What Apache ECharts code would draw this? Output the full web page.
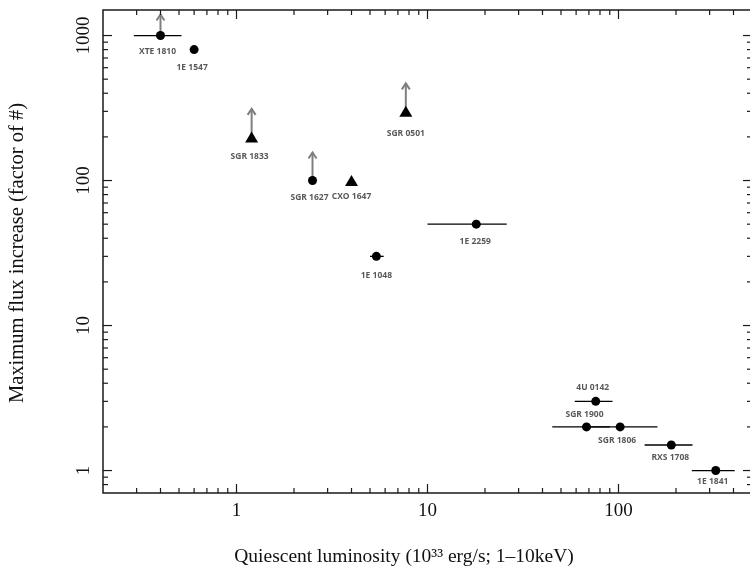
<!DOCTYPE html>
<html>
<head>
<meta charset="utf-8">
<script src="https://cdn.jsdelivr.net/npm/echarts@6/dist/echarts.min.js"></script>
<style>
  html, body { margin: 0; padding: 0; background: #fff; }
  #chart { width: 750px; height: 569px; }
</style>
</head>
<body>
<div id="chart"></div>
<script>
// magnetar outbursts: quiescent luminosity vs max flux increase
const names = ["XTE 1810", "1E 1547", "SGR 1833", "SGR 1627", "CXO 1647", "SGR 0501", "1E 1048",
  "1E 2259", "4U 0142", "SGR 1900", "SGR 1806", "RXS 1708", "1E 1841"];
const lum = [0.4, 0.6, 1.2, 2.5, 4.0, 7.7, 5.4, 18, 76, 68, 102, 189, 323];
const flux = [1000, 800, 200, 100, 100, 300, 30, 50, 3, 2, 2, 1.5, 1];
const lumLow = [0.29, null, null, null, null, null, 5.0, 10, 59, 45, 65, 137, 242];
const lumHigh = [0.515, null, null, null, null, null, 5.9, 26, 93, 90, 160, 244, 406];
const lowerLimit = [true, false, true, true, false, true, false, false, false, false, false, false, false];
const marker = ["circle", "circle", "triangle", "circle", "triangle", "triangle", "circle",
  "circle", "circle", "circle", "circle", "circle", "circle"];

const xMajorTicks = [1, 10, 100];
const xMinorTicks = [0.3, 0.4, 0.5, 0.6, 0.7, 0.8, 0.9, 2, 3, 4, 5, 6, 7, 8, 9,
  20, 30, 40, 50, 60, 70, 80, 90, 200, 300, 400];
const yMajorTicks = [1, 10, 100, 1000];
const yMinorTicks = [0.8, 0.9, 2, 3, 4, 5, 6, 7, 8, 9, 20, 30, 40, 50, 60, 70, 80, 90,
  200, 300, 400, 500, 600, 700, 800, 900];

const X_MIN = 0.2, X_MAX = 500, Y_MIN = 0.7, Y_MAX = 1500;

// label placement (px from point centre)
const labelOffset = {
  "XTE 1810": [-3, 16], "1E 1547": [-2, 18], "SGR 1833": [-2, 20], "SGR 1627": [-3, 17],
  "CXO 1647": [0, 16], "SGR 0501": [0, 22], "1E 1048": [0, 19], "1E 2259": [-1, 17],
  "4U 0142": [-3, -14], "SGR 1900": [-2, -12], "SGR 1806": [-3, 14], "RXS 1708": [-1, 13],
  "1E 1841": [-3, 11]
};
const arrowLen = { "XTE 1810": 21 };

const serif = "Liberation Serif";
const axisColor = "#1a1a1a";

const chart = echarts.init(document.getElementById("chart"));

const pointData = names.map((n, i) => ({
  name: n,
  value: [lum[i], flux[i]],
  symbol: marker[i],
  symbolSize: marker[i] === "triangle" ? [13, 11] : 9,
  label: { offset: labelOffset[n] }
}));

const barData = [];
names.forEach((n, i) => {
  if (lumLow[i] != null) barData.push([lumLow[i], lumHigh[i], flux[i]]);
});

const arrowData = [];
names.forEach((n, i) => {
  if (lowerLimit[i]) arrowData.push({ name: n, value: [lum[i], flux[i]] });
});

function isPow10(v) {
  const l = Math.log10(v);
  return Math.abs(l - Math.round(l)) < 1e-6;
}

chart.setOption({
  animation: false,
  backgroundColor: "#fff",
  grid: {
    left: 103, top: 10, width: 649, bottom: 76,
    outerBoundsMode: "none",
    show: true, borderColor: axisColor, borderWidth: 1.5, backgroundColor: "transparent"
  },
  xAxis: {
    type: "log", logBase: 10, min: X_MIN, max: X_MAX,
    axisLine: { show: false }, axisTick: { show: false }, splitLine: { show: false },
    axisLabel: {
      margin: 9, fontFamily: serif, fontSize: 19, color: "#111",
      formatter: v => isPow10(v) ? String(Math.round(v)) : ""
    }
  },
  yAxis: {
    type: "log", logBase: 10, min: Y_MIN, max: Y_MAX,
    axisLine: { show: false }, axisTick: { show: false }, splitLine: { show: false },
    axisLabel: {
      margin: 9, rotate: 90, fontFamily: serif, fontSize: 19, color: "#111",
      formatter: v => isPow10(v) ? String(Math.round(v)) : ""
    }
  },
  graphic: [
    {
      type: "text", x: 404, y: 557,
      style: {
        text: "Quiescent luminosity (10³³ erg/s; 1–10keV)",
        fontFamily: serif, fontSize: 19.5, fill: "#111", align: "center", verticalAlign: "middle"
      }
    },
    {
      type: "text", x: 18, y: 253, rotation: Math.PI / 2,
      style: {
        text: "Maximum flux increase (factor of #)",
        fontFamily: serif, fontSize: 20.5, fill: "#111", align: "center", verticalAlign: "middle"
      }
    }
  ],
  series: [
    {
      // axis ticks on all four sides
      type: "custom",
      clip: false,
      silent: true,
      z: 5,
      data: [[1, 1]],
      renderItem: function (params, api) {
        const children = [];
        const st = { stroke: axisColor, lineWidth: 1.2 };
        const xTick = (v, len) => {
          const b = api.coord([v, Y_MIN]);
          const t = api.coord([v, Y_MAX]);
          children.push({ type: "line", shape: { x1: b[0], y1: b[1], x2: b[0], y2: b[1] - len }, style: st });
          children.push({ type: "line", shape: { x1: t[0], y1: t[1], x2: t[0], y2: t[1] + len }, style: st });
        };
        const yTick = (v, len) => {
          const l = api.coord([X_MIN, v]);
          const r = api.coord([X_MAX, v]);
          children.push({ type: "line", shape: { x1: l[0], y1: l[1], x2: l[0] + len, y2: l[1] }, style: st });
          children.push({ type: "line", shape: { x1: r[0], y1: r[1], x2: r[0] - len, y2: r[1] }, style: st });
        };
        xMajorTicks.forEach(v => xTick(v, 9));
        xMinorTicks.forEach(v => xTick(v, 5));
        yMajorTicks.forEach(v => yTick(v, 9));
        yMinorTicks.forEach(v => yTick(v, 5));
        return { type: "group", children: children };
      }
    },
    {
      // horizontal error bars
      type: "custom",
      silent: true,
      z: 2,
      data: barData,
      renderItem: function (params, api) {
        const a = api.coord([api.value(0), api.value(2)]);
        const b = api.coord([api.value(1), api.value(2)]);
        return {
          type: "line",
          shape: { x1: a[0], y1: a[1], x2: b[0], y2: b[1] },
          style: { stroke: "#000", lineWidth: 1.3 }
        };
      }
    },
    {
      // lower-limit arrows
      type: "custom",
      silent: true,
      z: 1,
      data: arrowData,
      renderItem: function (params, api) {
        const p = api.coord([api.value(0), api.value(1)]);
        const len = arrowLen[arrowData[params.dataIndex].name] || 28;
        const tipY = p[1] - len;
        const st = { stroke: "#7f7f7f", lineWidth: 2, fill: null };
        return {
          type: "group",
          children: [
            { type: "line", shape: { x1: p[0], y1: p[1], x2: p[0], y2: tipY }, style: st },
            { type: "polyline", shape: { points: [[p[0] - 4, tipY + 6], [p[0], tipY], [p[0] + 4, tipY + 6]] }, style: st }
          ]
        };
      }
    },
    {
      type: "scatter",
      z: 3,
      data: pointData,
      itemStyle: { color: "#000", opacity: 1 },
      label: {
        show: true,
        position: "inside",
        formatter: "{b}",
        fontFamily: "Open Sans",
        fontWeight: "bold",
        fontSize: 8.5,
        color: "#595959"
      },
      emphasis: { disabled: true }
    }
  ]
});
</script>
</body>
</html>
